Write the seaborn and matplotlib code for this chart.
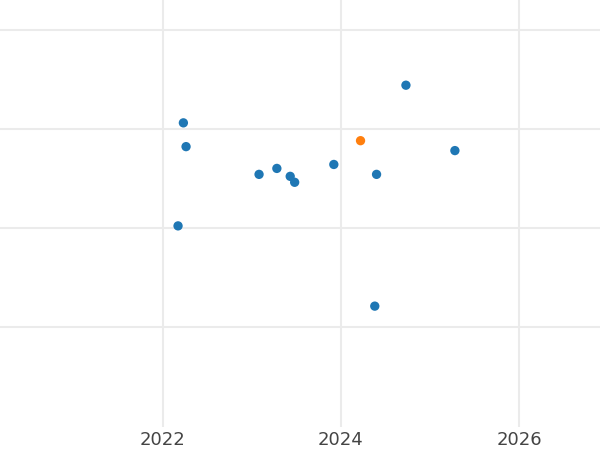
import matplotlib
matplotlib.use('Agg')
import matplotlib.pyplot as plt
import seaborn as sns
import pandas as pd

# data (x in decimal years, y in grid units)
years = [2022.23, 2022.26, 2022.17, 2023.08, 2023.28, 2023.43, 2023.48,
         2024.73, 2024.22, 2023.92, 2024.40, 2025.28, 2024.38]
values = [3.06, 2.82, 2.02, 2.54, 2.60, 2.52, 2.46,
          3.44, 2.88, 2.64, 2.54, 2.78, 1.21]
groups = ['a', 'a', 'a', 'a', 'a', 'a', 'a',
          'a', 'b', 'a', 'a', 'a', 'a']

df = pd.DataFrame({'year': years, 'value': values, 'group': groups})

sns.set_style('white')
fig = plt.figure(figsize=(6, 4.5), dpi=100)
ax = fig.add_axes([0, 1 - 427 / 450, 1, 427 / 450])

sns.scatterplot(data=df, x='year', y='value', hue='group',
                palette={'a': '#1f77b4', 'b': '#ff7f0e'},
                s=45, edgecolor='none', legend=False, ax=ax, zorder=3)

ax.set_xlim(2020.17, 2026.91)
ax.set_ylim(-0.01, 4.30)
ax.set_xticks([2022, 2024, 2026])
ax.set_yticks([1, 2, 3, 4])
ax.set_yticklabels([])
ax.grid(True, color='#ebebeb', linewidth=1.5)
ax.set_axisbelow(True)
ax.tick_params(axis='both', length=0, labelsize=13, labelcolor='#444444', pad=3)
ax.set_xlabel('')
ax.set_ylabel('')
for sp in ax.spines.values():
    sp.set_visible(False)

fig.savefig('out.png', dpi=100)
